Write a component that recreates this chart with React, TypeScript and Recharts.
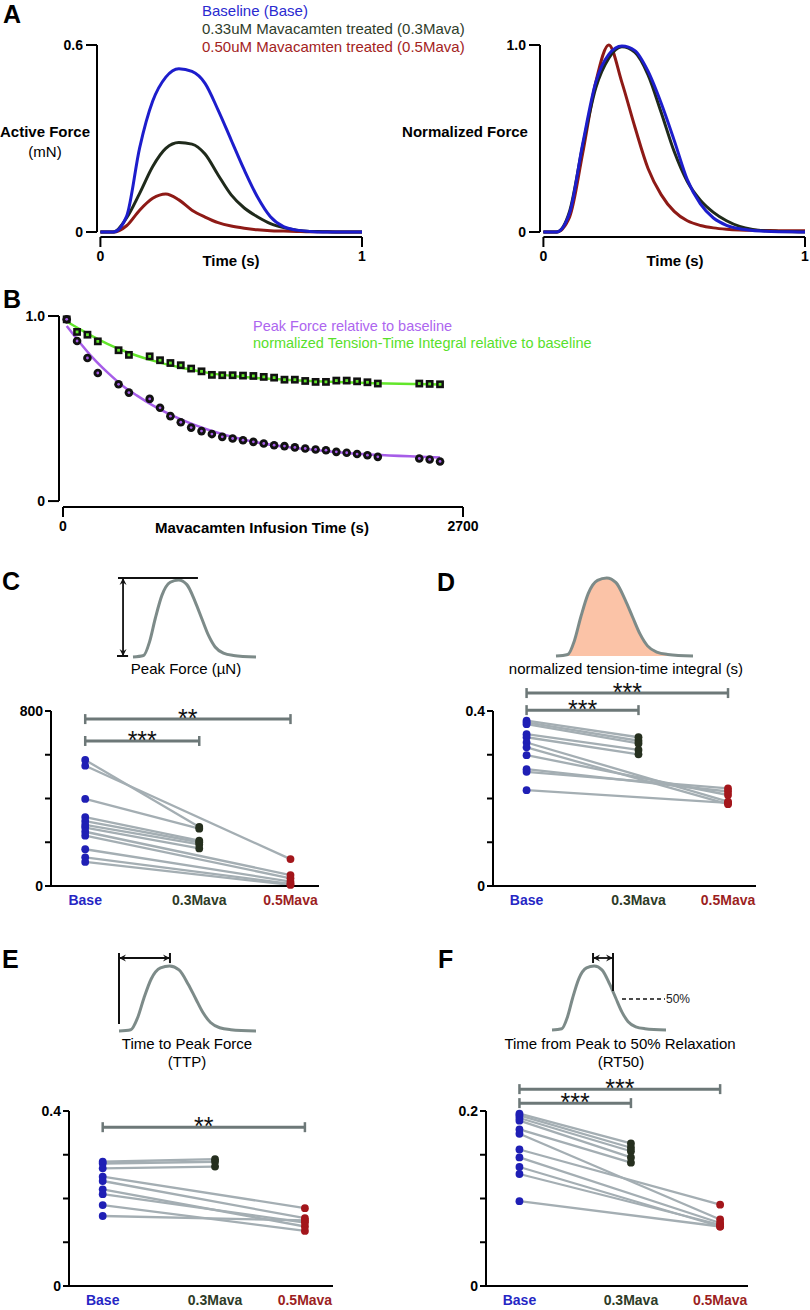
import React from 'react'
import { LineChart, ComposedChart, Line, Area, XAxis, YAxis, ReferenceLine } from 'recharts'

const FONT = '"Liberation Sans", Arial, Helvetica, sans-serif'

// ---------- Panel A: representative twitches ----------
const A_TIME = [0, 0.05, 0.1, 0.15, 0.2, 0.25, 0.3, 0.35, 0.4, 0.45, 0.5, 0.55, 0.6, 0.65, 0.7, 0.75, 0.8, 0.85, 0.9, 0.95, 1]
const A_FORCE_BASE = [0, 0, 0.05, 0.27, 0.42, 0.497, 0.524, 0.515, 0.477, 0.391, 0.295, 0.199, 0.113, 0.049, 0.017, 0.006, 0.002, 0, 0, 0, 0]
const A_FORCE_M03 = [0, 0, 0.045, 0.124, 0.21, 0.268, 0.287, 0.282, 0.25, 0.183, 0.119, 0.077, 0.049, 0.027, 0.014, 0.006, 0.002, 0.001, 0, 0, 0]
const A_FORCE_M05 = [0, 0, 0.02, 0.07, 0.108, 0.122, 0.103, 0.07, 0.048, 0.03, 0.019, 0.012, 0.007, 0.004, 0.003, 0.002, 0.001, 0.001, 0, 0, 0]
const A_NORM_BASE = [0, 0, 0.1, 0.47, 0.8, 0.95, 0.995, 0.97, 0.86, 0.69, 0.49, 0.28, 0.15, 0.075, 0.036, 0.017, 0.008, 0.004, 0.002, 0.001, 0]
const A_NORM_M03 = [0, 0, 0.11, 0.46, 0.77, 0.93, 0.99, 0.96, 0.84, 0.64, 0.43, 0.27, 0.17, 0.105, 0.06, 0.03, 0.014, 0.006, 0.003, 0.001, 0]
const A_NORM_M05 = [0, 0, 0.08, 0.42, 0.8, 1.0, 0.8, 0.56, 0.34, 0.2, 0.11, 0.06, 0.035, 0.022, 0.015, 0.011, 0.009, 0.008, 0.007, 0.007, 0.007]

// ---------- Panel B: infusion time course ----------
const B_TIME = [25, 95, 165, 235, 375, 445, 585, 655, 725, 795, 865, 935, 1005, 1075, 1145, 1215, 1285, 1355, 1425, 1495, 1565, 1635, 1705, 1775, 1845, 1915, 1985, 2055, 2125, 2405, 2475, 2545]
const B_PEAK = [0.982, 0.865, 0.773, 0.692, 0.631, 0.586, 0.552, 0.504, 0.459, 0.426, 0.397, 0.378, 0.362, 0.347, 0.338, 0.329, 0.32, 0.311, 0.302, 0.297, 0.29, 0.284, 0.279, 0.275, 0.266, 0.261, 0.254, 0.248, 0.239, 0.23, 0.225, 0.214]
const B_TTI = [0.982, 0.914, 0.899, 0.863, 0.815, 0.79, 0.782, 0.761, 0.746, 0.734, 0.716, 0.701, 0.682, 0.68, 0.68, 0.678, 0.676, 0.671, 0.667, 0.656, 0.656, 0.649, 0.644, 0.644, 0.651, 0.651, 0.647, 0.642, 0.635, 0.635, 0.633, 0.631]
const B_FIT_TIME = [25, 100, 200, 300, 400, 500, 600, 800, 1000, 1200, 1500, 1800, 2100, 2400, 2545]
const B_FIT_PEAK = [0.946, 0.87, 0.775, 0.695, 0.625, 0.57, 0.52, 0.44, 0.38, 0.335, 0.293, 0.268, 0.25, 0.24, 0.236]
const B_FIT_TTI = [0.97, 0.935, 0.89, 0.85, 0.815, 0.785, 0.76, 0.72, 0.69, 0.672, 0.656, 0.645, 0.637, 0.632, 0.63]

// ---------- Panels C-F: paired cells ----------
const CATEGORIES = ['Base', '0.3Mava', '0.5Mava']
// group: 1 = treated with 0.3Mava, 2 = treated with 0.5Mava
const C_BASE = [576, 398, 315, 297, 279, 267, 550, 248, 230, 168, 131, 110]
const C_TREATED = [270, 262, 207, 200, 190, 172, 123, 50, 35, 20, 10, 5]
const C_GROUP = [1, 1, 1, 1, 1, 1, 2, 2, 2, 2, 2, 2]

const D_BASE = [0.378, 0.374, 0.37, 0.347, 0.34, 0.328, 0.317, 0.299, 0.267, 0.261, 0.219]
const D_TREATED = [0.34, 0.332, 0.326, 0.311, 0.301, 0.193, 0.187, 0.208, 0.216, 0.223, 0.19]
const D_GROUP = [1, 1, 1, 1, 1, 2, 2, 2, 2, 2, 2]

const E_BASE = [0.284, 0.28, 0.269, 0.25, 0.24, 0.221, 0.21, 0.185, 0.16]
const E_TREATED = [0.29, 0.284, 0.273, 0.178, 0.155, 0.136, 0.145, 0.126, 0.15]
const E_GROUP = [1, 1, 1, 2, 2, 2, 2, 2, 2]

const F_BASE = [0.197, 0.195, 0.192, 0.189, 0.179, 0.174, 0.156, 0.147, 0.136, 0.128, 0.097]
const F_TREATED = [0.163, 0.158, 0.154, 0.147, 0.141, 0.076, 0.093, 0.072, 0.068, 0.07, 0.068]
const F_GROUP = [1, 1, 1, 1, 1, 2, 2, 2, 2, 2, 2]

// schematic twitch shape (fraction of width, fraction of peak)
const SCHEM_T = [0, 0.086, 0.135, 0.181, 0.235, 0.303, 0.37, 0.438, 0.505, 0.559, 0.614, 0.668, 0.735, 0.816, 1]
const SCHEM_F = [0, 0.02, 0.2, 0.5, 0.8, 0.97, 1, 0.94, 0.72, 0.5, 0.28, 0.13, 0.05, 0.02, 0]

// ---------- styles ----------
const BLUE = '#1d1dcc'
const DKGREEN = '#1f2a1b'
const RED = '#8e1a16'
const PURPLE = '#a65de8'
const LIME = '#62e62a'
const GREY_LINE = '#a4aeb3'
const SIG = '#6d7878'
const SCHEM_GREY = '#7d8b89'
const CAT_POS = [0, 1, 1.8]
const DOT_COLORS = ['#1f1fb5', '#26301f', '#a3161b']
const CAT_TEXT = ['#2626c4', '#2e3b27', '#9c1f1f']

const tickStyle = { fill: '#000', fontSize: 14, fontWeight: 700, fontFamily: FONT }
const axisStroke = { stroke: '#000', strokeWidth: 2 }

const A_ROWS = A_TIME.map((t, i) => ({
  t,
  fb: A_FORCE_BASE[i], f3: A_FORCE_M03[i], f5: A_FORCE_M05[i],
  nb: A_NORM_BASE[i], n3: A_NORM_M03[i], n5: A_NORM_M05[i],
}))
const B_POINTS = B_TIME.map((t, i) => ({ t, peak: B_PEAK[i], tti: B_TTI[i] }))
const B_FIT = B_FIT_TIME.map((t, i) => ({ t, peak: B_FIT_PEAK[i], tti: B_FIT_TTI[i] }))
const SCHEM_ROWS = SCHEM_T.map((t, i) => ({ t, f: SCHEM_F[i] }))

function fmt1(v: number) {
  return v === 0 ? '0' : v.toFixed(1)
}

// ---------- annotation shapes ----------
function head(x: number, y: number, ang: number) {
  const L = 7, W = 3.5
  const bx = x - L * Math.cos(ang), by = y - L * Math.sin(ang)
  const px = -Math.sin(ang) * W, py = Math.cos(ang) * W
  const nx = x - 0.65 * L * Math.cos(ang), ny = y - 0.65 * L * Math.sin(ang)
  return `M${x},${y} L${bx + px},${by + py} L${nx},${ny} L${bx - px},${by - py} Z`
}

const arrowShape = (both: boolean) => (p: any) => {
  const ang = Math.atan2(p.y2 - p.y1, p.x2 - p.x1)
  return (
    <g>
      <line x1={p.x1} y1={p.y1} x2={p.x2} y2={p.y2} stroke="#111" strokeWidth={1.8} />
      <path d={head(p.x2, p.y2, ang)} fill="#111" />
      {both && <path d={head(p.x1, p.y1, ang + Math.PI)} fill="#111" />}
    </g>
  )
}

const plainShape = (p: any) => (
  <line x1={p.x1} y1={p.y1} x2={p.x2} y2={p.y2} stroke="#111" strokeWidth={2} />
)

const dashShape = (p: any) => (
  <g>
    <line x1={p.x1} y1={p.y1} x2={p.x2} y2={p.y2} stroke="#111" strokeWidth={1.3} strokeDasharray="4 3" />
    <text x={p.x2 + 1} y={p.y2 + 4} fontSize={12} fontFamily={FONT} fill="#222">50%</text>
  </g>
)

const bracketShape = (label: string) => (p: any) => (
  <g>
    <line x1={p.x1} y1={p.y1} x2={p.x2} y2={p.y2} stroke={SIG} strokeWidth={3} />
    <line x1={p.x1} y1={p.y1 - 5} x2={p.x1} y2={p.y1 + 5} stroke={SIG} strokeWidth={2.5} />
    <line x1={p.x2} y1={p.y2 - 5} x2={p.x2} y2={p.y2 + 5} stroke={SIG} strokeWidth={2.5} />
    <text x={(p.x1 + p.x2) / 2} y={p.y1 + 8} textAnchor="middle" fontSize={25} fontFamily={FONT} fill="#111">
      {label}
    </text>
  </g>
)

// ---------- Panel A chart ----------
function TracePanel({ left, keys, yMax }: { left: number; keys: string[]; yMax: number }) {
  const yw = 55, mt = 10, mr = 6, xh = 30
  const plotW = 265, plotH = 192
  const xMin = -0.013
  const yMin = -yMax * (5 / 187)
  const colors = [RED, DKGREEN, BLUE]
  return (
    <div style={{ position: 'absolute', left: left - yw, top: 45 - mt }}>
      <LineChart width={plotW + yw + mr} height={plotH + mt + xh} data={A_ROWS} margin={{ top: mt, right: mr, left: 0, bottom: 0 }}>
        <XAxis type="number" dataKey="t" domain={[xMin, 1]} ticks={[0, 1]} interval={0} height={xh}
          axisLine={false} tickLine={axisStroke} tickSize={10} tickMargin={4} tick={tickStyle} />
        <YAxis type="number" domain={[yMin, yMax]} ticks={[0, yMax]} interval={0} width={yw}
          axisLine={false} tickLine={axisStroke} tickSize={11} tickMargin={3} tick={tickStyle} tickFormatter={fmt1} />
        <ReferenceLine segment={[{ x: xMin, y: 0 }, { x: xMin, y: yMax }]} stroke="#000" strokeWidth={2} ifOverflow="visible" />
        <ReferenceLine segment={[{ x: 0, y: yMin }, { x: 1, y: yMin }]} stroke="#000" strokeWidth={2} ifOverflow="visible" />
        {keys.map((k, i) => (
          <Line key={k} type="monotone" dataKey={k} stroke={colors[i]} strokeWidth={3} dot={false} isAnimationActive={false} />
        ))}
      </LineChart>
    </div>
  )
}

// ---------- Panel B chart ----------
const circleDot = (p: any) =>
  p.cy == null ? <g key={`c${p.index}`} /> : (
    <g key={`c${p.index}`}>
      <circle cx={p.cx} cy={p.cy} r={4.3} fill="#111" />
      <circle cx={p.cx} cy={p.cy} r={1.4} fill={PURPLE} />
    </g>
  )

const squareDot = (p: any) =>
  p.cy == null ? <g key={`s${p.index}`} /> : (
    <g key={`s${p.index}`}>
      <rect x={p.cx - 3.9} y={p.cy - 3.9} width={7.8} height={7.8} fill="#111" />
      <rect x={p.cx - 1.4} y={p.cy - 1.4} width={2.8} height={2.8} fill={LIME} />
    </g>
  )

function TimeCoursePanel() {
  const yw = 50, mt = 10, mr = 20, xh = 30
  const plotW = 404, plotH = 191
  const xMin = -27, yMin = -0.032
  return (
    <div style={{ position: 'absolute', left: 59 - yw, top: 316 - mt }}>
      <LineChart width={plotW + yw + mr} height={plotH + mt + xh} margin={{ top: mt, right: mr, left: 0, bottom: 0 }}>
        <XAxis type="number" dataKey="t" domain={[xMin, 2700]} ticks={[0, 2700]} interval={0} height={xh}
          axisLine={false} tickLine={axisStroke} tickSize={10} tickMargin={4} tick={tickStyle} />
        <YAxis type="number" domain={[yMin, 1]} ticks={[0, 1]} interval={0} width={yw}
          axisLine={false} tickLine={axisStroke} tickSize={11} tickMargin={3} tick={tickStyle} tickFormatter={fmt1} />
        <ReferenceLine segment={[{ x: xMin, y: 0 }, { x: xMin, y: 1 }]} stroke="#000" strokeWidth={2} ifOverflow="visible" />
        <ReferenceLine segment={[{ x: 0, y: yMin }, { x: 2700, y: yMin }]} stroke="#000" strokeWidth={2} ifOverflow="visible" />
        <Line data={B_FIT} type="monotone" dataKey="tti" stroke={LIME} strokeWidth={2.5} dot={false} isAnimationActive={false} />
        <Line data={B_FIT} type="monotone" dataKey="peak" stroke={PURPLE} strokeWidth={2.5} dot={false} isAnimationActive={false} />
        <Line data={B_POINTS} dataKey="tti" stroke="none" dot={squareDot} isAnimationActive={false} />
        <Line data={B_POINTS} dataKey="peak" stroke="none" dot={circleDot} isAnimationActive={false} />
      </LineChart>
    </div>
  )
}

// ---------- Schematic insets ----------
type Margin = { top: number; right: number; bottom: number; left: number }
function Schematic({ box, margin, filled, children }: { box: number[]; margin: Margin; filled?: boolean; children?: React.ReactNode }) {
  const [x1, y1, x2, y2] = box
  return (
    <div style={{ position: 'absolute', left: x1 - margin.left, top: y1 - margin.top }}>
      <ComposedChart width={x2 - x1 + margin.left + margin.right} height={y2 - y1 + margin.top + margin.bottom} data={SCHEM_ROWS} margin={margin}>
        <XAxis type="number" dataKey="t" domain={[0, 1]} hide />
        <YAxis type="number" domain={[0, 1]} hide />
        {filled ? (
          <Area type="monotone" dataKey="f" stroke={SCHEM_GREY} strokeWidth={3} fill="#fbc3a7" fillOpacity={1} isAnimationActive={false} />
        ) : (
          <Line type="monotone" dataKey="f" stroke={SCHEM_GREY} strokeWidth={3} dot={false} isAnimationActive={false} />
        )}
        {children}
      </ComposedChart>
    </div>
  )
}

// ---------- Paired dot plots ----------
const CatTick = (p: any) => {
  const i = CAT_POS.indexOf(p.payload.value)
  return (
    <text x={p.x} y={p.y} dy="0.71em" textAnchor="middle" fontFamily={FONT} fontSize={14} fontWeight={700} fill={CAT_TEXT[i]}>
      {CATEGORIES[i]}
    </text>
  )
}

const pairedDot = (p: any) => {
  if (p.cy == null || p.value == null) return <g key={`p${p.index}`} />
  const ci = p.payload.cat
  return <circle key={`p${p.index}`} cx={p.cx} cy={p.cy} r={3.9} fill={DOT_COLORS[ci]} />
}

type Bracket = { to: number; y: number; label: string }
function PairedPanel({ box, base, treated, group, yTicks, yLabel, brackets }: {
  box: number[]; base: number[]; treated: number[]; group: number[]; yTicks: number[]; yLabel: string; brackets: Bracket[]
}) {
  const [x1, y1, x2, y2] = box
  const yw = 45, mt = 40, mr = 10, xh = 30
  const yMax = yTicks[yTicks.length - 1]
  const rows = CATEGORIES.map((_, ci) => {
    const row: any = { x: CAT_POS[ci], cat: ci }
    base.forEach((b, i) => {
      row['s' + i] = ci === 0 ? b : group[i] === ci ? treated[i] : null
    })
    return row
  })
  return (
    <div style={{ position: 'absolute', left: x1 - yw, top: y1 - mt }}>
      <LineChart width={x2 - x1 + yw + mr} height={y2 - y1 + mt + xh} data={rows} margin={{ top: mt, right: mr, left: 0, bottom: 0 }}>
        <XAxis type="number" dataKey="x" domain={[-0.3, 2.05]} ticks={CAT_POS} interval={0} height={xh}
          axisLine={axisStroke} tickLine={false} tickSize={0} tickMargin={9} tick={CatTick} />
        <YAxis type="number" domain={[0, yMax]} ticks={yTicks} interval={0} width={yw}
          axisLine={axisStroke} tickLine={axisStroke} tickSize={6} tickMargin={2} tick={tickStyle}
          tickFormatter={(v: number) => (v === 0 ? '0' : v === yMax ? yLabel : '')} />
        {base.map((_, i) => (
          <Line key={'l' + i} dataKey={'s' + i} connectNulls stroke={GREY_LINE} strokeWidth={2.3} dot={false} isAnimationActive={false} />
        ))}
        {base.map((_, i) => (
          <Line key={'d' + i} dataKey={'s' + i} stroke="none" dot={pairedDot} isAnimationActive={false} />
        ))}
        {brackets.map((b, i) => (
          <ReferenceLine key={'b' + i} segment={[{ x: CAT_POS[0], y: b.y }, { x: CAT_POS[b.to], y: b.y }]}
            ifOverflow="visible" shape={bracketShape(b.label)} />
        ))}
      </LineChart>
    </div>
  )
}

// ---------- text overlay ----------
function T({ x, y, s = 15, b, c = '#000', a = 'start', children }: any) {
  return (
    <text x={x} y={y} fontSize={s} fontWeight={b ? 700 : 400} fill={c} textAnchor={a} fontFamily={FONT}>
      {children}
    </text>
  )
}

export default function App() {
  return (
    <div style={{ position: 'absolute', left: 0, top: 0, width: 810, height: 1310, background: '#fff', fontFamily: FONT, overflow: 'hidden' }}>
      <TracePanel left={97} keys={['f5', 'f3', 'fb']} yMax={0.6} />
      <TracePanel left={540} keys={['n5', 'n3', 'nb']} yMax={1} />
      <TimeCoursePanel />

      {/* C schematic: peak force */}
      <Schematic box={[133, 580, 256, 657]} margin={{ top: 8, right: 6, bottom: 6, left: 24 }}>
        <ReferenceLine segment={[{ x: -0.122, y: 1.026 }, { x: 0.528, y: 1.026 }]} ifOverflow="visible" shape={plainShape} />
        <ReferenceLine segment={[{ x: -0.081, y: 0.013 }, { x: -0.081, y: 1.026 }]} ifOverflow="visible" shape={arrowShape(true)} />
        <ReferenceLine segment={[{ x: -0.13, y: 0.013 }, { x: -0.04, y: 0.013 }]} ifOverflow="visible" shape={plainShape} />
      </Schematic>
      {/* D schematic: tension-time integral */}
      <Schematic box={[556, 578, 693, 656]} margin={{ top: 6, right: 6, bottom: 6, left: 6 }} filled />
      {/* E schematic: time to peak */}
      <Schematic box={[119, 966, 256, 1031]} margin={{ top: 18, right: 6, bottom: 6, left: 6 }}>
        <ReferenceLine segment={[{ x: 0, y: 0.108 }, { x: 0, y: 1.2 }]} ifOverflow="visible" shape={plainShape} />
        <ReferenceLine segment={[{ x: 0, y: 1.123 }, { x: 0.372, y: 1.123 }]} ifOverflow="visible" shape={arrowShape(true)} />
        <ReferenceLine segment={[{ x: 0.372, y: 1.045 }, { x: 0.372, y: 1.2 }]} ifOverflow="visible" shape={plainShape} />
      </Schematic>
      {/* F schematic: RT50 */}
      <Schematic box={[552, 966, 666, 1030]} margin={{ top: 18, right: 34, bottom: 6, left: 6 }}>
        <ReferenceLine segment={[{ x: 0.535, y: 0.609 }, { x: 0.535, y: 1.203 }]} ifOverflow="visible" shape={plainShape} />
        <ReferenceLine segment={[{ x: 0.36, y: 1.125 }, { x: 0.535, y: 1.125 }]} ifOverflow="visible" shape={arrowShape(true)} />
        <ReferenceLine segment={[{ x: 0.36, y: 1.047 }, { x: 0.36, y: 1.203 }]} ifOverflow="visible" shape={plainShape} />
        <ReferenceLine segment={[{ x: 0.614, y: 0.484 }, { x: 0.991, y: 0.484 }]} ifOverflow="visible" shape={dashShape} />
      </Schematic>

      <PairedPanel box={[51, 711, 319, 886]} base={C_BASE} treated={C_TREATED} group={C_GROUP}
        yTicks={[0, 200, 400, 600, 800]} yLabel="800"
        brackets={[{ to: 2, y: 763, label: '**' }, { to: 1, y: 663, label: '***' }]} />
      <PairedPanel box={[493, 711, 756, 886]} base={D_BASE} treated={D_TREATED} group={D_GROUP}
        yTicks={[0, 0.1, 0.2, 0.3, 0.4]} yLabel="0.4"
        brackets={[{ to: 2, y: 0.441, label: '***' }, { to: 1, y: 0.402, label: '***' }]} />
      <PairedPanel box={[69, 1111, 333, 1286]} base={E_BASE} treated={E_TREATED} group={E_GROUP}
        yTicks={[0, 0.1, 0.2, 0.3, 0.4]} yLabel="0.4"
        brackets={[{ to: 2, y: 0.363, label: '**' }]} />
      <PairedPanel box={[486, 1111, 748, 1286]} base={F_BASE} treated={F_TREATED} group={F_GROUP}
        yTicks={[0, 0.05, 0.1, 0.15, 0.2]} yLabel="0.2"
        brackets={[{ to: 2, y: 0.225, label: '***' }, { to: 1, y: 0.209, label: '***' }]} />

      <svg width={810} height={1310} style={{ position: 'absolute', left: 0, top: 0, pointerEvents: 'none' }}>
        <T x={3} y={23} s={25} b>A</T>
        <T x={202} y={16} c="#2a2ad0">Baseline (Base)</T>
        <T x={202} y={34} c="#2f3d2a">0.33uM Mavacamten treated (0.3Mava)</T>
        <T x={202} y={52} c="#a3231d">0.50uM Mavacamten treated (0.5Mava)</T>
        <T x={45} y={137} b a="middle">Active Force</T>
        <T x={45} y={157} a="middle">(mN)</T>
        <T x={465} y={137} b a="middle">Normalized Force</T>
        <T x={231} y={266} b a="middle">Time (s)</T>
        <T x={675} y={266} b a="middle">Time (s)</T>

        <T x={3} y={308} s={25} b>B</T>
        <T x={253} y={331} s={14.5} c="#ad66ef">Peak Force relative to baseline</T>
        <T x={253} y={348} s={14.5} c="#58e02b">normalized Tension-Time Integral relative to baseline</T>
        <T x={262} y={533} b a="middle">Mavacamten Infusion Time (s)</T>

        <T x={2} y={590} s={25} b>C</T>
        <T x={186} y={674} a="middle">Peak Force (µN)</T>
        <T x={437} y={591} s={25} b>D</T>
        <T x={626} y={674} a="middle">normalized tension-time integral (s)</T>
        <T x={2} y={968} s={25} b>E</T>
        <T x={187} y={1049} a="middle">Time to Peak Force</T>
        <T x={187} y={1067} a="middle">(TTP)</T>
        <T x={438} y={968} s={25} b>F</T>
        <T x={620} y={1049} a="middle">Time from Peak to 50% Relaxation</T>
        <T x={621} y={1067} a="middle">(RT50)</T>
      </svg>
    </div>
  )
}
